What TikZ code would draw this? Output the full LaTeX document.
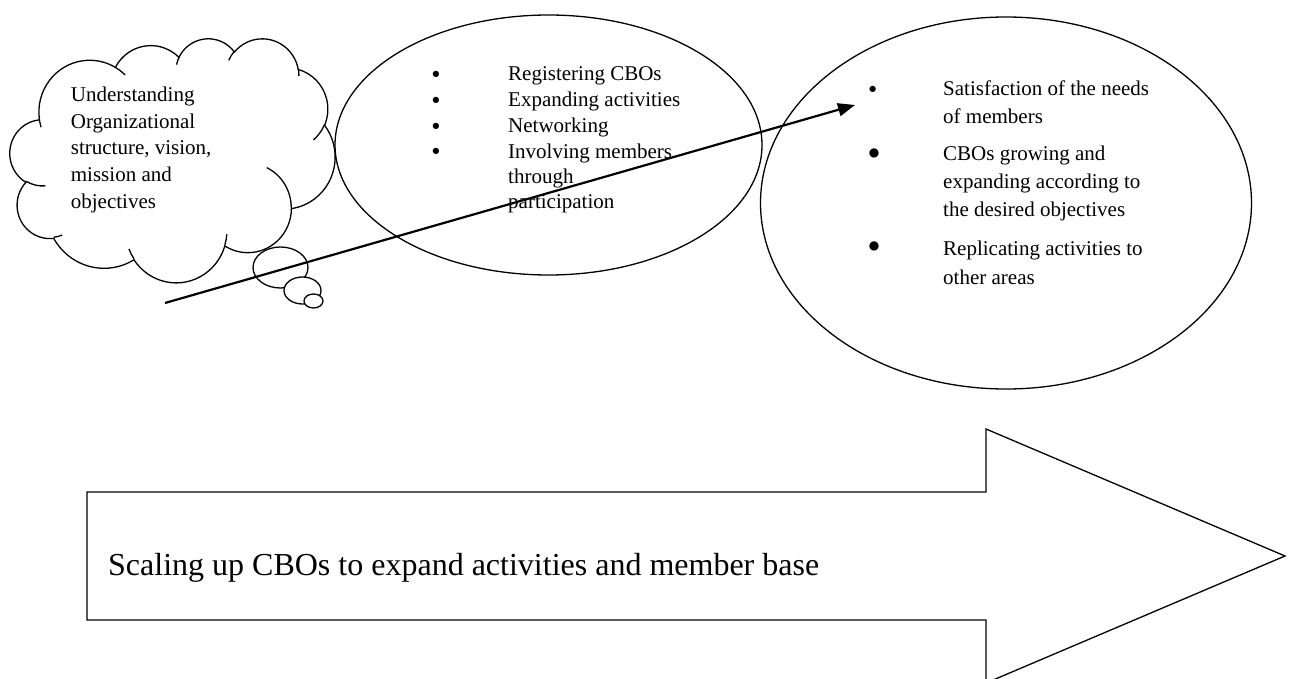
\documentclass[tikz,border=0pt]{standalone}
\usepackage{fontspec}
\setmainfont{Liberation Serif}
\usetikzlibrary{arrows.meta,shapes.geometric}
\begin{document}
\begin{tikzpicture}[x=1pt,y=-1pt,
  shapeline/.style={draw=black, line width=1.3pt},
  txt/.style={anchor=base west, inner sep=0pt, font=\fontsize{21}{25}\selectfont},
  bul/.style={anchor=center, inner sep=0pt, font=\fontsize{14.5}{15}\selectfont},
  bigbul/.style={anchor=center, inner sep=0pt, font=\fontsize{21.5}{22}\selectfont},
  oval/.style={shapeline, ellipse, inner sep=0pt},
]
\useasboundingbox (0,0) rectangle (1290,679);

% ---------- cloud ----------
\begin{scope}[shift={(10,38)}, x=0.7523pt, y=-0.5648pt]
\draw[shapeline, fill=white] (39.00,143.70)
  arc[start angle=-187.75, delta angle=128.11, x radius=67.53, y radius=91.90]
  arc[start angle=-152.02, delta angle=106.58, x radius=53.33, y radius=72.67]
  arc[start angle=-153.49, delta angle=116.17, x radius=43.65, y radius=59.45]
  arc[start angle=-139.72, delta angle=129.50, x radius=48.57, y radius=65.95]
  arc[start angle=-74.77, delta angle=97.98, x radius=53.33, y radius=72.73]
  arc[start angle=-37.55, delta angle=119.41, x radius=67.75, y radius=92.20]
  arc[start angle=0.46, delta angle=121.52, x radius=57.85, y radius=78.67]
  arc[start angle=16.84, delta angle=129.39, x radius=67.52, y radius=92.15]
  arc[start angle=58.98, delta angle=91.21, x radius=77.20, y radius=105.43]
  arc[start angle=-276.69, delta angle=139.81, x radius=43.60, y radius=59.18]
  arc[start angle=-239.66, delta angle=143.77, x radius=43.45, y radius=59.45]
  -- cycle;
\draw[shapeline]
  (46.93,261.77) arc[start angle=85.54, delta angle=34.80, x radius=43.45, y radius=59.45]
  (69.28,348.99) arc[start angle=68.23, delta angle=15.08, x radius=43.60, y radius=59.18]
  (164.78,390.90) arc[start angle=146.23, delta angle=12.24, x radius=67.52, y radius=92.15]
  (288.27,347.51) arc[start angle=4.74, delta angle=12.10, x radius=67.52, y radius=92.15]
  (341.29,229.54) arc[start angle=-64.03, delta angle=64.49, x radius=57.85, y radius=78.67]
  (417.98,153.54) arc[start angle=23.21, delta angle=26.43, x radius=53.33, y radius=72.73]
  (383.24,54.26) arc[start angle=-10.22, delta angle=11.04, x radius=48.57, y radius=65.95]
  (290.78,39.52) arc[start angle=-156.29, delta angle=16.57, x radius=48.57, y radius=65.95]
  (221.41,47.20) arc[start angle=-167.72, delta angle=14.23, x radius=43.65, y radius=59.45]
  (140.00,51.92) arc[start angle=-59.64, delta angle=13.89, x radius=67.53, y radius=91.90]
  (41.27,157.89) arc[start angle=163.19, delta angle=9.06, x radius=67.53, y radius=91.90];
\end{scope}

% thought bubbles
\node[oval, fill=white, minimum width=55pt, minimum height=41pt] (b1) at (280.5,267.5) {};
\node[oval, fill=white, minimum width=37pt, minimum height=27pt] (b2) at (302.5,290.5) {};
\node[oval, fill=white, minimum width=19pt, minimum height=14pt] (b3) at (313.5,301) {};

% cloud text
\node[txt] (c1) at (70.7,101.7) {Understanding};
\node[txt] (c2) at (70.7,128.3) {Organizational};
\node[txt] (c3) at (70.7,155.0) {structure, vision,};
\node[txt] (c4) at (70.7,181.7) {mission and};
\node[txt] (c5) at (70.7,208.3) {objectives};

% middle ellipse
\node[oval, minimum width=427pt, minimum height=260pt] (mid) at (548.5,145) {};
\node[bul] (mb1) at (436,75) {●};
\node[bul] (mb2) at (436,100.7) {●};
\node[bul] (mb3) at (436,126.7) {●};
\node[bul] (mb4) at (436,152.3) {●};
\node[txt] (m1) at (508,81) {Registering CBOs};
\node[txt] (m2) at (508,106.7) {Expanding activities};
\node[txt] (m3) at (508,132.3) {Networking};
\node[txt] (m4) at (508,158.3) {Involving members};
\node[txt] (m5) at (508,183.3) {through};
\node[txt] (m6) at (508,208.3) {participation};

% right ellipse
\node[oval, minimum width=491pt, minimum height=372pt] (right) at (1006,203) {};
\node[bul] (rb1) at (872.7,90) {●};
\node[bigbul] (rb2) at (874,154) {●};
\node[bigbul] (rb3) at (874,247.3) {●};
\node[txt] (r1) at (943,96) {Satisfaction of the needs};
\node[txt] (r2) at (943,123.3) {of members};
\node[txt] (r3) at (943,160.7) {CBOs growing and};
\node[txt] (r4) at (943,189) {expanding according to};
\node[txt] (r5) at (943,216.7) {the desired objectives};
\node[txt] (r6) at (943,255) {Replicating activities to};
\node[txt] (r7) at (943,284) {other areas};

% diagonal arrow
\coordinate (as) at (165,303);
\coordinate (ae) at (855,105);
\draw[line width=2.2pt, -{Triangle[length=17pt,width=13pt]}] (as) -- (ae);

% big block arrow
\draw[line width=1.3pt, line join=miter] (87,492) -- (986,492) -- (986,429) -- (1285,556)
  -- (986,683) -- (986,620) -- (87,620) -- cycle;
\node[anchor=base west, inner sep=0pt, font=\fontsize{32}{36}\selectfont] (big) at (108,575)
  {Scaling up CBOs to expand activities and member base};
\end{tikzpicture}
\end{document}
